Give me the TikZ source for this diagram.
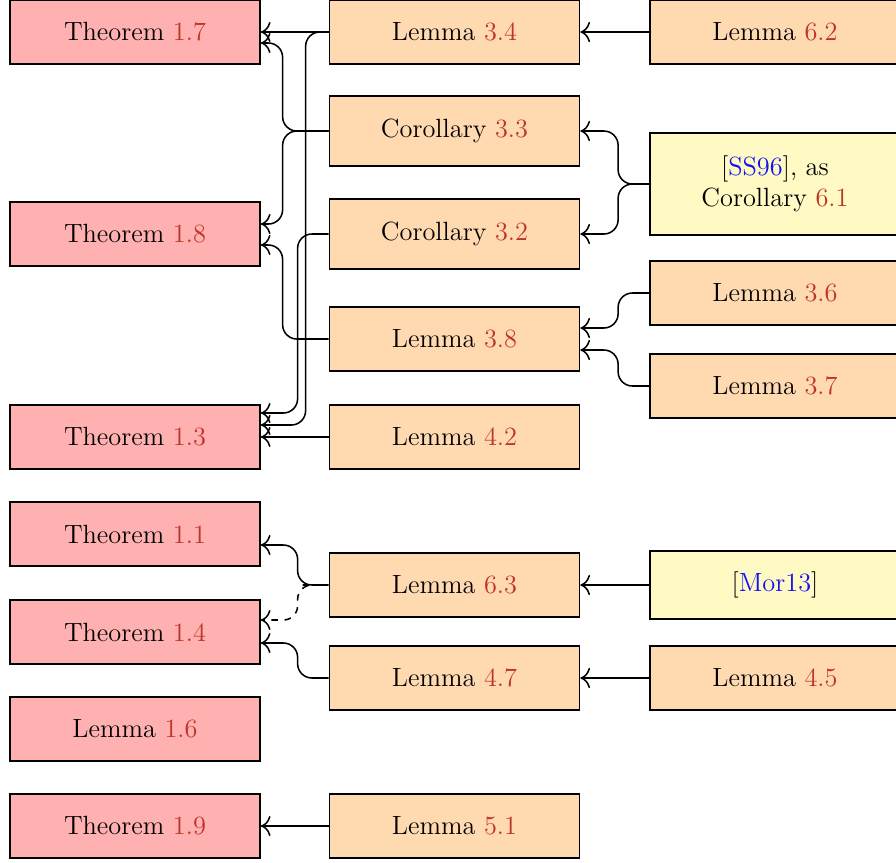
\documentclass[tikz,border=0pt]{standalone}
\usepackage{xcolor}
\usepackage{tikz}
\usetikzlibrary{arrows,arrows.meta,shapes,positioning}
\definecolor{thmred}{RGB}{255, 176, 176}
\definecolor{lemorange}{RGB}{255, 217, 176}
\definecolor{refyellow}{RGB}{255, 249, 196}
\definecolor{numred}{RGB}{192, 52, 40}
\definecolor{citeblue}{RGB}{20, 20, 240}
\newcommand{\nr}[1]{\textcolor{numred}{#1}}
\newcommand{\cb}[1]{[\textcolor{citeblue}{#1}]}

\begin{document}
\begin{tikzpicture}[x=0.16mm, y=-0.16mm,
    box/.style={draw, thick, minimum width=4cm, minimum height=1.024cm, font=\large, align=center},
    thm/.style={box, fill=thmred},
    lem/.style={box, fill=lemorange},
    ext/.style={box, fill=refyellow},
    link/.style={-{To[scale=1.4]}, line width=0.7pt, rounded corners=6.5pt}]
    \useasboundingbox (0,0) rectangle (896,862);

    % Results
    \node[thm] (t17) at (135,32) {Theorem \nr{1.7}};
    \node[thm] (t18) at (135,234) {Theorem \nr{1.8}};
    \node[thm] (t13) at (135,437) {Theorem \nr{1.3}};
    \node[thm] (t11) at (135,534) {Theorem \nr{1.1}};
    \node[thm] (t14) at (135,632) {Theorem \nr{1.4}};
    \node[thm] (l16) at (135,729) {Lemma \nr{1.6}};
    \node[thm] (t19) at (135,826) {Theorem \nr{1.9}};

    % Intermediate steps
    \node[lem] (l34) at (454.5,32) {Lemma \nr{3.4}};
    \node[lem, minimum height=1.12cm] (c33) at (454.5,131) {Corollary \nr{3.3}};
    \node[lem, minimum height=1.12cm] (c32) at (454.5,234) {Corollary \nr{3.2}};
    \node[lem] (l38) at (454.5,339) {Lemma \nr{3.8}};
    \node[lem] (l42) at (454.5,437) {Lemma \nr{4.2}};
    \node[lem] (l63) at (454.5,585) {Lemma \nr{6.3}};
    \node[lem] (l47) at (454.5,678) {Lemma \nr{4.7}};
    \node[lem] (l51) at (454.5,826) {Lemma \nr{5.1}};

    % Inputs
    \node[lem] (l62) at (775,32) {Lemma \nr{6.2}};
    \node[ext, minimum height=1.63cm] (ss96) at (775,184) {\cb{SS96}, as\\Corollary \nr{6.1}};
    \node[lem] (l36) at (775,293) {Lemma \nr{3.6}};
    \node[lem] (l37) at (775,386) {Lemma \nr{3.7}};
    \node[ext, minimum height=1.09cm] (mor13) at (775,585) {\cb{Mor13}};
    \node[lem] (l45) at (775,678) {Lemma \nr{4.5}};

    % Upper block
    \draw[link] (l34.west) -- (t17.east);
    \draw[link] (l34.west) -- ++(-23,0) |- ([yshift=1.92mm]t13.east);
    \draw[link] (c33.west) -- ++(-46,0) |- ([yshift=-1.76mm]t17.east);
    \draw[link] (c33.west) -- ++(-46,0) |- ([yshift=1.6mm]t18.east);
    \draw[link] (l38.west) -- ++(-46,0) |- ([yshift=-1.76mm]t18.east);
    \draw[link] (c32.west) -- ++(-31,0) |- ([yshift=3.84mm]t13.east);
    \draw[link] (l42.west) -- (t13.east);
    \draw[link] (l62.west) -- (l34.east);
    \draw[link] (ss96.west) -- ++(-31,0) |- (c33.east);
    \draw[link] (ss96.west) -- ++(-31,0) |- (c32.east);
    \draw[link] (l36.west) -- ++(-31,0) |- ([yshift=1.76mm]l38.east);
    \draw[link] (l37.west) -- ++(-31,0) |- ([yshift=-1.76mm]l38.east);

    % Lower block
    \draw[link] (l63.west) -- ++(-31,0) |- ([yshift=-1.76mm]t11.east);
    \draw[link, dashed] (l63.west) ++(-26,0) -- ++(-5,0) |- ([yshift=1.92mm]t14.east);
    \draw[link] (l47.west) -- ++(-31,0) |- ([yshift=-1.76mm]t14.east);
    \draw[link] (mor13.west) -- (l63.east);
    \draw[link] (l45.west) -- (l47.east);
    \draw[link] (l51.west) -- (t19.east);
\end{tikzpicture}
\end{document}
